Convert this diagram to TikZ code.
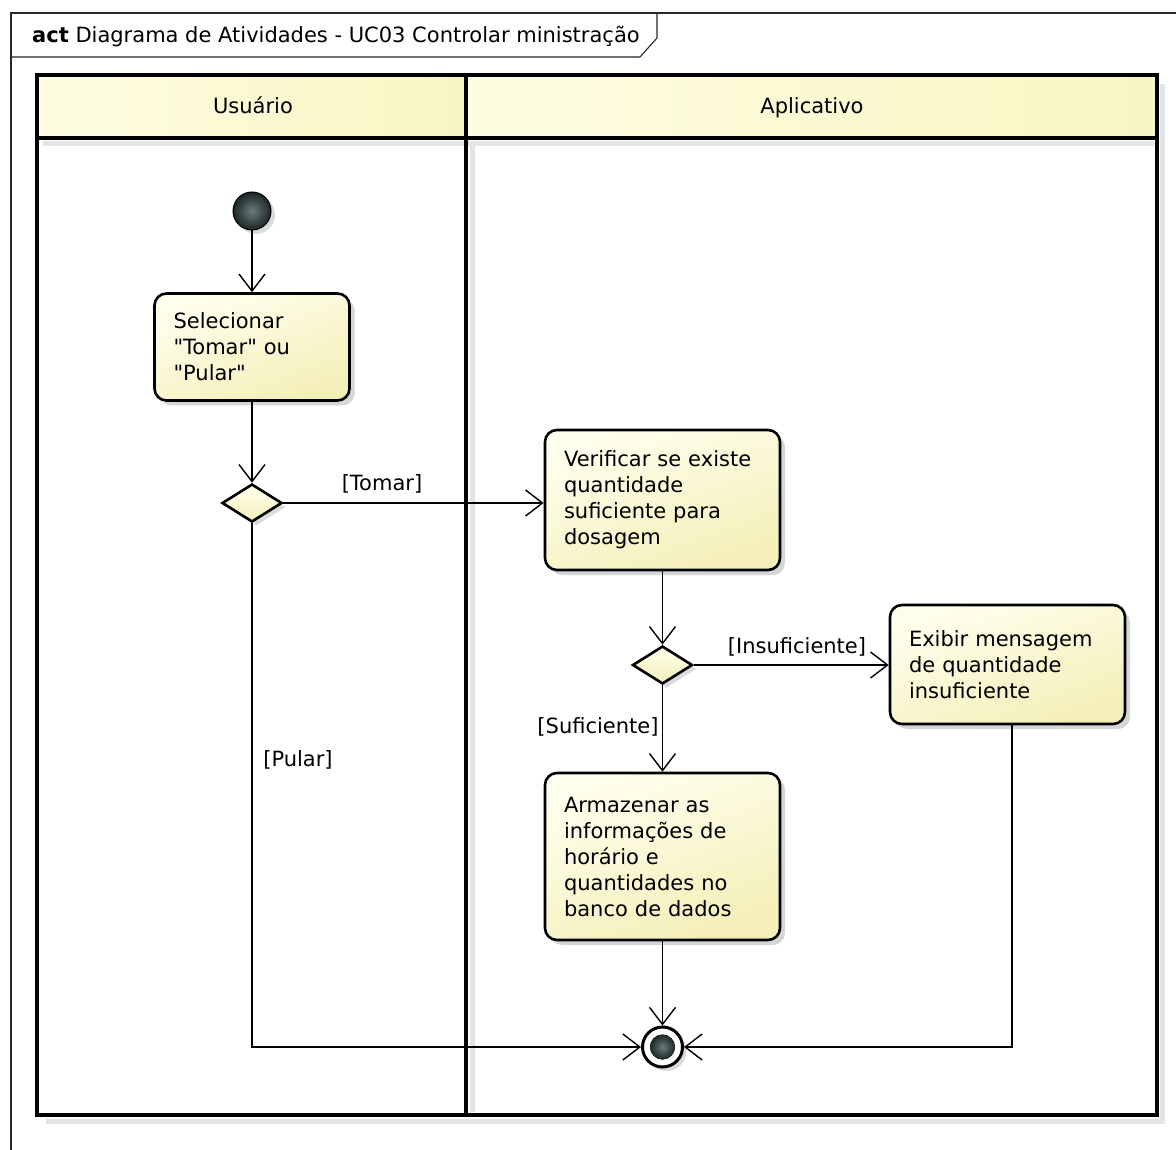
\documentclass[tikz,border=0pt]{standalone}
\usepackage{fontspec}
\setmainfont{DejaVu Sans}[Ligatures=TeXOff]
\usetikzlibrary{arrows.meta,shapes.geometric,shadows}
\definecolor{boxA}{HTML}{FFFFEE}
\definecolor{boxB}{HTML}{F4EFB8}
\definecolor{hdrA}{HTML}{FEFDE2}
\definecolor{hdrB}{HTML}{F9F5C2}
\definecolor{shd}{HTML}{E2E4E8}
\definecolor{ballA}{HTML}{6B7B7B}
\definecolor{ballB}{HTML}{1C2626}
\newcommand\dgfont{\fontsize{21}{26}\selectfont}
\begin{document}
\begin{tikzpicture}[x=1pt,y=-1pt,
  actbox/.style={draw, line width=2.6pt, rounded corners=12pt,
    top color=boxA, bottom color=boxB, shading angle=20,
    align=left, inner xsep=19pt, inner ysep=0pt, font=\dgfont,
    drop shadow={shadow xshift=5pt, shadow yshift=-5pt, fill=black, opacity=0.16}},
  decision/.style={diamond, draw, line width=2.6pt, inner sep=0pt,
    minimum width=60pt, minimum height=38pt,
    top color=boxA, bottom color=boxB,
    drop shadow={shadow xshift=4pt, shadow yshift=-4pt, fill=black, opacity=0.14}},
  flow/.style={line width=1.4pt, -{Straight Barb[length=17pt,width=26pt,line width=1.4pt]}},
  lbl/.style={font=\dgfont, inner sep=0pt},
  lanehdr/.style={font=\dgfont, inner sep=0pt, anchor=base},
  lane/.style={line width=3.4pt, line cap=rect},
  laneshd/.style={shd, line width=5pt}
]
\useasboundingbox (0,0) rectangle (1176,1150);
\fill[white] (0,0) rectangle (1176,1150);

% outer frame
\draw[line width=1.1pt, black!85] (1176,13) -- (11,13) -- (11,1150);
\draw[line width=1.1pt, black!85] (11,57) -- (640,57) -- (657,38) -- (657,13);
\node[anchor=west, inner sep=0pt, font=\dgfont] (title) at (32,37)
  {\textbf{act} Diagrama de Atividades - UC03 Controlar ministração};

% lane shadows
\draw[laneshd] (1162,84) -- (1162,1121) -- (46,1121);
\draw[laneshd] (43,144) -- (1154,144);
\draw[laneshd] (472,144) -- (472,1112);

% lane headers
\fill[left color=hdrA, right color=hdrB] (37,75) rectangle (466,138);
\fill[left color=hdrA, right color=hdrB] (466,75) rectangle (1157,138);
\draw[lane] (37,75) rectangle (1157,1115);
\draw[lane] (37,138) -- (1157,138);
\draw[lane] (466,75) -- (466,1115);
\node[lanehdr] (usuario) at (253,114) {Usuário};
\node[lanehdr] (aplicativo) at (812,114) {Aplicativo};

% nodes
\node[circle, minimum size=38pt, inner sep=0pt, draw=black, line width=1pt,
      inner color=ballA, outer color=ballB,
      drop shadow={shadow xshift=4pt, shadow yshift=-4pt, fill=black, opacity=0.14}]
  (start) at (252,211) {};

\node[actbox, minimum width=195pt, minimum height=107pt, text width=157pt]
  (sel) at (252,347) {Selecionar\\"Tomar" ou\\"Pular"};

\node[decision] (dec1) at (252,503) {};

\node[actbox, minimum width=235pt, minimum height=140pt, text width=197pt]
  (verif) at (662.5,500) {Verificar se existe\\quantidade\\suficiente para\\dosagem};

\node[decision] (dec2) at (662.5,665) {};

\node[actbox, minimum width=235pt, minimum height=119pt, text width=197pt]
  (msg) at (1007.5,664.5) {Exibir mensagem\\de quantidade\\insuficiente};

\node[actbox, minimum width=235pt, minimum height=167pt, text width=197pt]
  (arm) at (662.5,856.5) {Armazenar as\\informações de\\horário e\\quantidades no\\banco de dados};

\node[circle, minimum size=40pt, inner sep=0pt, draw=black, line width=3pt, fill=white,
      drop shadow={shadow xshift=4pt, shadow yshift=-4pt, fill=black, opacity=0.14}]
  (fin) at (662.5,1047) {};
\fill[inner color=ballA, outer color=ballB] (fin.center) circle (12.5);

% connectors
\draw[flow] (start) -- (sel);
\draw[flow] (sel) -- (dec1);
\draw[flow] (dec1.east) -- (dec1.east -| verif.west);
\draw[flow] (verif) -- (dec2);
\draw[flow] (dec2.east) -- (dec2.east -| msg.west);
\draw[flow] (dec2) -- (arm);
\draw[flow] (arm) -- (fin);
\draw[flow] (dec1.south) |- (fin.west);
\coordinate (msgout) at ([xshift=4.5pt]msg.south);
\draw[flow] (msgout) |- (fin.east);

% guard labels
\node[lbl] (ltomar) at (382,484) {[Tomar]};
\node[lbl] (linsuf) at (797,647) {[Insuficiente]};
\node[lbl] (lsuf) at (598,727) {[Suficiente]};
\node[lbl] (lpular) at (298,760) {[Pular]};
\end{tikzpicture}
\end{document}
